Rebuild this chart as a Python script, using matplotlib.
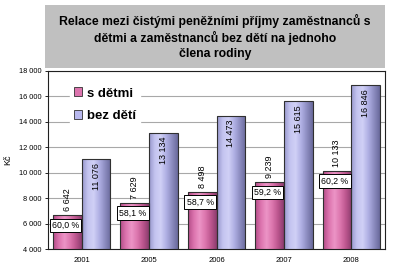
import numpy as np
import matplotlib
matplotlib.use("Agg")
import matplotlib.pyplot as plt
from matplotlib.patches import Rectangle, Patch
from matplotlib.colors import LinearSegmentedColormap

plt.rcParams['font.family'] = ['Liberation Sans', 'DejaVu Sans']

# data
roky = ['2001', '2005', '2006', '2007', '2008']
s_detmi = [6642, 7629, 8498, 9239, 10133]
bez_deti = [11076, 13134, 14473, 15615, 16846]
podil = ['60,0 %', '58,1 %', '58,7 %', '59,2 %', '60,2 %']
titulek = "Relace mezi čistými peněžními příjmy zaměstnanců s\ndětmi a zaměstnanců bez dětí na jednoho\nčlena rodiny"

def fmt(v):
    return f"{v:,}".replace(",", " ")

fig = plt.figure(figsize=(4, 2.74), dpi=100)
ax = fig.add_axes([0.12, 0.091, 0.8425, 0.651])

# titulek v sedem ramecku
fig.patches.append(Rectangle((0.1125, 0.752), 0.85, 0.23, transform=fig.transFigure,
                             facecolor='#c0c0c0', edgecolor='none', zorder=0))
fig.text(0.5375, 0.865, titulek, ha='center', va='center', fontsize=8.8,
         fontweight='bold', linespacing=1.3)

x = np.arange(len(roky))
w = 0.425
pink_cm = LinearSegmentedColormap.from_list('p', ['#b44c88', '#dc74ae', '#ec94c6', '#dc76ae', '#bc568e', '#8c3c6e'])
lav_cm = LinearSegmentedColormap.from_list('l', ['#9898cc', '#c4c4f0', '#d0d0f6', '#b0b0e4', '#8c8cc0', '#6a6a9c'])

b1 = ax.bar(x - w / 2, s_detmi, w, facecolor='none', edgecolor='#303030', linewidth=0.8, zorder=3)
b2 = ax.bar(x + w / 2, bez_deti, w, facecolor='none', edgecolor='#303030', linewidth=0.8, zorder=3)

ax.set_xlim(-0.5, len(roky) - 0.5)
ax.set_ylim(4000, 18000)

# valcovy prechod barev
grad = np.linspace(0, 1, 64).reshape(1, -1)
for bars, cm in ((b1, pink_cm), (b2, lav_cm)):
    for p in bars:
        x0 = p.get_x()
        x1 = x0 + p.get_width()
        im = ax.imshow(grad, cmap=cm, extent=[x0, x1, 4000, p.get_height()],
                       aspect='auto', zorder=2, origin='lower')
        im.set_clip_path(p)
ax.set_xlim(-0.5, len(roky) - 0.5)
ax.set_ylim(4000, 18000)

for i in range(len(roky)):
    ax.annotate(fmt(s_detmi[i]), (x[i] - w / 2, s_detmi[i]), xytext=(0, 3),
                textcoords='offset points', rotation=90, ha='center', va='bottom',
                fontsize=6.5, zorder=5)
    ax.annotate(fmt(bez_deti[i]), (x[i] + w / 2, bez_deti[i]), xytext=(0, -3),
                textcoords='offset points', rotation=90, ha='center', va='top',
                fontsize=6.5, zorder=5)
    ax.text(x[i] - w / 2 - 0.03, s_detmi[i] - 800, podil[i], ha='center', va='center',
            fontsize=6.3, zorder=6,
            bbox=dict(boxstyle='square,pad=0.25', facecolor='white', edgecolor='black', linewidth=0.7))

ax.set_yticks(np.arange(4000, 18001, 2000))
ax.set_yticklabels([fmt(v) for v in range(4000, 18001, 2000)], fontsize=5.3)
ax.set_xticks(x)
ax.set_xticklabels(roky, fontsize=5.5)
ax.tick_params(axis='x', length=0, pad=6)
ax.tick_params(axis='y', length=2.5, width=0.6, pad=2)
ax.set_ylabel('Kč', fontsize=6.5, labelpad=5)
ax.yaxis.grid(True, color='#a8a8a8', linewidth=0.8)
ax.set_axisbelow(True)
for s in ax.spines.values():
    s.set_linewidth(0.8)
    s.set_color('#202020')

handles = [Patch(facecolor='#dc74ae', edgecolor='#303030', linewidth=0.6),
           Patch(facecolor='#b8b8ee', edgecolor='#303030', linewidth=0.6)]
leg = ax.legend(handles, ['s dětmi', 'bez dětí'], loc='upper left', bbox_to_anchor=(0.045, 0.965),
                prop={'size': 9.5, 'weight': 'semibold'}, frameon=True, fancybox=False,
                edgecolor='white', framealpha=1,
                handlelength=0.65, handleheight=0.65, handletextpad=0.35, labelspacing=0.8,
                borderpad=0.3)
leg.set_zorder(4)

fig.savefig('out.png', dpi=100)
